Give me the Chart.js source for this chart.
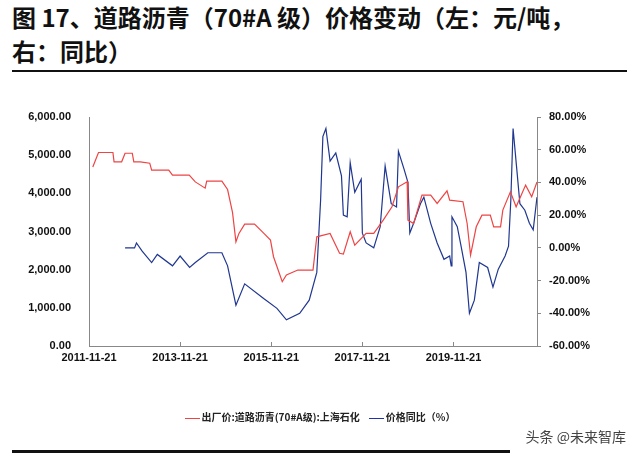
<!DOCTYPE html>
<html><head><meta charset="utf-8">
<script src="https://cdn.jsdelivr.net/npm/chart.js@4/dist/chart.umd.min.js"></script>
<style>
body{margin:0;width:640px;height:461px;overflow:hidden;background:#fff;font-family:"Noto Sans CJK SC",sans-serif;position:relative}
#t{position:absolute;left:12px;top:0px;font-size:24px;font-weight:bold;line-height:34px;color:#111;white-space:nowrap}
#rule1{position:absolute;left:12px;top:70px;width:615px;height:2px;background:#111}
#rule2{position:absolute;left:12px;top:450px;width:498px;height:3px;background:#111}
#cv{position:absolute;left:0;top:0}
#leg{position:absolute;top:409px;left:0;width:640px;text-align:center;font-size:10px;font-weight:bold;color:#222}
#leg span.sw{display:inline-block;width:15px;height:1px;vertical-align:middle;margin-right:2px}
#wm{position:absolute;right:14px;top:426px;font-size:14px;color:#444}
</style></head><body>
<div id="t">图 17、道路沥青（70#A 级）价格变动（左：元/吨，<br>右：同比）</div>
<div id="rule1"></div>
<canvas id="cv" width="640" height="461"></canvas>
<div id="leg"><span class="sw" style="background:#e44"></span>出厂价:道路沥青(70#A级):上海石化&nbsp;&nbsp;&nbsp;&nbsp;<span class="sw" style="background:#23a"></span>价格同比（%）</div>
<div id="wm">头条 @未来智库</div>
<div id="rule2"></div>
<script>
// months since 2011-11-21
const priceMonths = [1, 2.5, 6.3, 6.6, 8.6, 9.5, 11.4, 11.8, 13.5, 16, 16.5, 21, 22, 26.4, 28, 30.6, 31, 35, 36.5, 37.8, 38.7, 39.5, 41, 43.6, 46, 47.8, 48.6, 50.9, 52, 55, 59, 60, 63.5, 66, 67, 68.8, 70, 73, 75, 77.5, 79.8, 81.5, 83.8, 84, 85.5, 87.7, 90, 91.7, 94.3, 95, 98.5, 99.6, 100.5, 102, 103.5, 105.7, 106.6, 108.4, 109, 111, 112.5, 115, 116.6, 118];
const priceValues = [4690, 5070, 5070, 4825, 4825, 5050, 5050, 4825, 4825, 4790, 4610, 4610, 4476, 4476, 4300, 4136, 4319, 4319, 4100, 3500, 2730, 2950, 3194, 3194, 2958, 2775, 2339, 1684, 1860, 1990, 1990, 2861, 2950, 2430, 2408, 2992, 2640, 2950, 2950, 3298, 3647, 4171, 4302, 3298, 3210, 3953, 3953, 3734, 4066, 3822, 3780, 3210, 2380, 3123, 3429, 3429, 3123, 3123, 3560, 4040, 3647, 4215, 3910, 4300];
const yoyMonths = [9.5, 12, 12.5, 14, 16.5, 18, 22, 24, 26.5, 28, 31.3, 35, 36.5, 38.7, 41, 46, 49.5, 52, 55.5, 58, 60, 61, 61.6, 62.4, 63.5, 65, 66.5, 67, 68, 68.8, 70, 71.7, 72, 73, 75, 76.7, 78, 79.6, 81, 81.5, 83, 84, 84.5, 85.5, 87.3, 88.2, 90, 91.7, 93.5, 95, 95.4, 95.6, 97, 98, 99.3, 100.2, 101.5, 102.8, 105, 106.4, 107.8, 109.6, 110.5, 111.1, 111.7, 112.6, 113.5, 114.8, 116, 117, 118];
const yoyValues = [0, 0, 3, -2, -9, -4, -11, -5, -12, -9, -3, -3, -11, -35, -22, -31, -37, -44, -40, -32, -15, 29, 68, 73, 53, 58, 44, 20, 19, 52, 34, 42, 9, 3, 0, 13, 50, 27, 25, 59, 48, 40, 9, 15, 27, 31, 15, 3, -7, -5, -11, 19, 13, 1, -15, -40, -32, -9, -12, -24, -13, -5, 1, 29, 73, 50, 27, 23, 15, 11, 31];
const tickMonths = [0, 24, 48, 72, 96];
const tickLabels = ['2011-11-21', '2013-11-21', '2015-11-21', '2017-11-21', '2019-11-21'];

const pts = (xs, ys) => xs.map((x, i) => ({ x: x, y: ys[i] }));
const tickFont = { family: 'Arial, "Liberation Sans", sans-serif', size: 11, weight: 'bold' };

new Chart(document.getElementById('cv').getContext('2d'), {
  type: 'line',
  data: {
    datasets: [
      { data: pts(priceMonths, priceValues), borderColor: '#e44', borderWidth: 1.2, pointRadius: 0, tension: 0, yAxisID: 'y' },
      { data: pts(yoyMonths, yoyValues), borderColor: '#1f3790', borderWidth: 1.2, pointRadius: 0, tension: 0, yAxisID: 'y2' }
    ]
  },
  options: {
    responsive: false, animation: false,
    layout: { padding: { top: 117, left: 0, right: 0, bottom: 0 } },
    plugins: { legend: { display: false }, tooltip: { enabled: false } },
    scales: {
      x: {
        type: 'linear', min: 0, max: 118,
        afterBuildTicks: s => { s.ticks = tickMonths.map(v => ({ value: v })); },
        ticks: { callback: (v) => tickLabels[tickMonths.indexOf(v)], color: '#111', font: tickFont, maxRotation: 0, padding: 9 },
        grid: { display: true, drawOnChartArea: false, tickLength: -4, color: '#888' },
        border: { color: '#888' },
        afterFit: s => { s.height = 115; }
      },
      y: {
        position: 'left', min: 0, max: 6000,
        ticks: { stepSize: 1000, color: '#111', font: tickFont, padding: 10, callback: v => v.toLocaleString('en-US', { minimumFractionDigits: 2 }) },
        grid: { display: false }, border: { color: '#888' },
        afterFit: s => { s.width = 89; }
      },
      y2: {
        position: 'right', min: -60, max: 80,
        ticks: { stepSize: 20, color: '#111', font: tickFont, padding: 8, callback: v => v.toFixed(2) + '%' },
        grid: { display: true, drawOnChartArea: false, tickLength: 4, color: '#888' }, border: { color: '#888' },
        afterFit: s => { s.width = 103; }
      }
    }
  }
});
</script>
</body></html>
